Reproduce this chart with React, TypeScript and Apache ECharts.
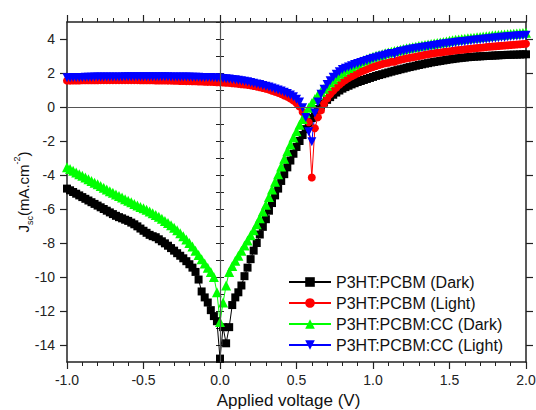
import React, { useEffect, useRef } from "react";
import * as echarts from "echarts";

const voltage = [
  -1.0, -0.98, -0.96, -0.94, -0.92, -0.9, -0.88, -0.86, -0.84, -0.82,
  -0.8, -0.78, -0.76, -0.74, -0.72, -0.7, -0.68, -0.66, -0.64, -0.62,
  -0.6, -0.58, -0.56, -0.54, -0.52, -0.5, -0.48, -0.46, -0.44, -0.42,
  -0.4, -0.38, -0.36, -0.34, -0.32, -0.3, -0.28, -0.26, -0.24, -0.22,
  -0.2, -0.18, -0.16, -0.14, -0.12, -0.1, -0.08, -0.06, -0.04, -0.02,
  0.0, 0.02, 0.04, 0.06, 0.08, 0.1, 0.12, 0.14, 0.16, 0.18,
  0.2, 0.22, 0.24, 0.26, 0.28, 0.3, 0.32, 0.34, 0.36, 0.38,
  0.4, 0.42, 0.44, 0.46, 0.48, 0.5, 0.52, 0.54, 0.56, 0.58,
  0.6, 0.62, 0.64, 0.66, 0.68, 0.7, 0.72, 0.74, 0.76, 0.78,
  0.8, 0.82, 0.84, 0.86, 0.88, 0.9, 0.92, 0.94, 0.96, 0.98,
  1.0, 1.02, 1.04, 1.06, 1.08, 1.1, 1.12, 1.14, 1.16, 1.18,
  1.2, 1.22, 1.24, 1.26, 1.28, 1.3, 1.32, 1.34, 1.36, 1.38,
  1.4, 1.42, 1.44, 1.46, 1.48, 1.5, 1.52, 1.54, 1.56, 1.58,
  1.6, 1.62, 1.64, 1.66, 1.68, 1.7, 1.72, 1.74, 1.76, 1.78,
  1.8, 1.82, 1.84, 1.86, 1.88, 1.9, 1.92, 1.94, 1.96, 1.98,
  2.0,
];

const pcbmDark = [
  -4.8, -4.9, -5.0, -5.1, -5.2, -5.3, -5.4, -5.5, -5.6, -5.7,
  -5.8, -5.9, -6.0, -6.1, -6.2, -6.3, -6.4, -6.48, -6.55, -6.63,
  -6.7, -6.8, -6.9, -7.02, -7.15, -7.28, -7.4, -7.52, -7.6, -7.66,
  -7.78, -7.9, -8.02, -8.16, -8.3, -8.45, -8.6, -8.75, -8.9, -9.07,
  -9.25, -9.45, -9.7, -10.15, -10.85, -11.2, -11.5, -11.95, -12.3, -12.6,
  -14.8, -12.95, -13.9, -12.95, -11.65, -11.2, -10.9, -10.5, -9.95, -9.45,
  -8.95, -8.45, -8.0, -7.5, -7.05, -6.6, -6.1, -5.65, -5.2, -4.8,
  -4.35, -3.95, -3.55, -3.15, -2.75, -2.35, -2.0, -1.65, -1.3, -0.95,
  -0.65, -0.35, -0.12, 0.08, 0.26, 0.42, 0.58, 0.72, 0.85, 0.97,
  1.08, 1.17, 1.25, 1.33, 1.4, 1.47, 1.53, 1.59, 1.65, 1.71,
  1.77, 1.83, 1.88, 1.93, 1.98, 2.03, 2.08, 2.13, 2.17, 2.22,
  2.26, 2.31, 2.35, 2.39, 2.43, 2.47, 2.51, 2.55, 2.58, 2.62,
  2.65, 2.68, 2.71, 2.74, 2.77, 2.8, 2.82, 2.85, 2.87, 2.89,
  2.91, 2.93, 2.94, 2.96, 2.97, 2.98, 2.99, 3.0, 3.01, 3.02,
  3.03, 3.04, 3.05, 3.06, 3.07, 3.07, 3.08, 3.08, 3.09, 3.1,
  3.1,
];

const pcbmLight = [
  1.55, 1.55, 1.56, 1.56, 1.56, 1.57, 1.57, 1.57, 1.57, 1.57,
  1.57, 1.58, 1.58, 1.58, 1.58, 1.58, 1.58, 1.58, 1.58, 1.58,
  1.58, 1.58, 1.58, 1.58, 1.57, 1.57, 1.57, 1.57, 1.57, 1.56,
  1.56, 1.56, 1.56, 1.55, 1.55, 1.54, 1.54, 1.53, 1.53, 1.52,
  1.52, 1.51, 1.51, 1.5, 1.5, 1.49, 1.48, 1.48, 1.47, 1.46,
  1.45, 1.44, 1.43, 1.42, 1.4, 1.38, 1.36, 1.34, 1.32, 1.3,
  1.27, 1.24, 1.2, 1.16, 1.12, 1.07, 1.02, 0.96, 0.9, 0.83,
  0.76, 0.68, 0.6, 0.5, 0.38, 0.22, 0.02, -0.3, -0.6, -0.9,
  -4.15, -1.25, -0.6, -0.2, 0.2, 0.5, 0.75, 0.95, 1.13, 1.3,
  1.45, 1.58, 1.7, 1.8, 1.9, 1.99, 2.07, 2.15, 2.22, 2.29,
  2.35, 2.41, 2.47, 2.52, 2.57, 2.6, 2.66, 2.66, 2.74, 2.78,
  2.82, 2.86, 2.89, 2.93, 2.96, 3.0, 3.03, 3.07, 3.1, 3.13,
  3.16, 3.19, 3.21, 3.24, 3.26, 3.28, 3.3, 3.33, 3.35, 3.37,
  3.39, 3.41, 3.43, 3.45, 3.47, 3.49, 3.5, 3.52, 3.54, 3.56,
  3.57, 3.59, 3.6, 3.62, 3.63, 3.65, 3.66, 3.68, 3.69, 3.71,
  3.72,
];

const ccDark = [
  -3.55, -3.65, -3.75, -3.85, -3.95, -4.05, -4.15, -4.25, -4.35, -4.45,
  -4.55, -4.65, -4.75, -4.85, -4.95, -5.05, -5.15, -5.24, -5.33, -5.42,
  -5.52, -5.61, -5.7, -5.79, -5.88, -5.96, -6.05, -6.15, -6.25, -6.35,
  -6.45, -6.57, -6.7, -6.82, -6.95, -7.1, -7.25, -7.42, -7.6, -7.8,
  -8.0, -8.2, -8.45, -8.7, -8.95, -9.2, -9.45, -9.7, -10.0, -10.9,
  -12.65, -11.5, -10.5, -9.7, -9.35, -9.05, -8.75, -8.45, -8.15, -7.85,
  -7.55, -7.25, -6.9, -6.55, -6.15, -5.75, -5.3, -4.85, -4.4, -3.95,
  -3.5, -3.05, -2.6, -2.2, -1.8, -1.42, -1.05, -0.7, -0.35, -0.05,
  0.22, 0.47, 0.7, 0.9, 1.08, 1.25, 1.45, 1.63, 1.8, 1.95,
  2.08, 2.2, 2.3, 2.4, 2.5, 2.59, 2.67, 2.75, 2.82, 2.89,
  2.95, 3.01, 3.06, 3.11, 3.16, 3.21, 3.25, 3.29, 3.33, 3.37,
  3.41, 3.45, 3.48, 3.52, 3.55, 3.59, 3.62, 3.65, 3.68, 3.71,
  3.74, 3.77, 3.8, 3.83, 3.86, 3.89, 3.92, 3.95, 3.97, 4.0,
  4.02, 4.04, 4.06, 4.08, 4.1, 4.12, 4.14, 4.16, 4.18, 4.2,
  4.22, 4.23, 4.25, 4.26, 4.28, 4.29, 4.31, 4.32, 4.34, 4.35,
  4.37,
];

const ccLight = [
  1.72, 1.72, 1.73, 1.73, 1.74, 1.74, 1.75, 1.75, 1.75, 1.76,
  1.76, 1.76, 1.76, 1.77, 1.77, 1.77, 1.77, 1.77, 1.77, 1.78,
  1.78, 1.78, 1.78, 1.78, 1.78, 1.78, 1.78, 1.78, 1.78, 1.78,
  1.78, 1.78, 1.78, 1.78, 1.77, 1.77, 1.77, 1.77, 1.76, 1.76,
  1.76, 1.75, 1.75, 1.75, 1.74, 1.74, 1.73, 1.73, 1.72, 1.71,
  1.7, 1.68, 1.66, 1.64, 1.62, 1.6, 1.57, 1.54, 1.51, 1.48,
  1.44, 1.4, 1.36, 1.32, 1.27, 1.22, 1.17, 1.12, 1.06, 1.0,
  0.94, 0.87, 0.8, 0.7, 0.6, 0.46, 0.3, -0.05, -0.62, -1.45,
  -2.05, -0.35, 0.3, 0.75, 1.05, 1.32, 1.55, 1.75, 1.92, 2.07,
  2.2, 2.28, 2.35, 2.43, 2.5, 2.56, 2.62, 2.68, 2.74, 2.8,
  2.85, 2.9, 2.95, 3.0, 3.05, 3.1, 3.14, 3.1, 3.2, 3.26,
  3.3, 3.34, 3.37, 3.41, 3.44, 3.47, 3.5, 3.53, 3.56, 3.59,
  3.62, 3.65, 3.67, 3.7, 3.72, 3.75, 3.77, 3.8, 3.82, 3.84,
  3.86, 3.88, 3.9, 3.92, 3.94, 3.96, 3.98, 4.0, 4.02, 4.04,
  4.06, 4.08, 4.1, 4.11, 4.13, 4.14, 4.16, 4.17, 4.19, 4.2,
  4.22,
];

const seriesNames = [
  "P3HT:PCBM (Dark)",
  "P3HT:PCBM (Light)",
  "P3HT:PCBM:CC (Dark)",
  "P3HT:PCBM:CC (Light)",
];
const yMajorTicks = [-14, -12, -10, -8, -6, -4, -2, 0, 2, 4];

const FONT = 'Arial, "Liberation Sans", sans-serif';
const AXIS_COLOR = "#222";

export default function App() {
  const ref = useRef<HTMLDivElement>(null);

  useEffect(() => {
    if (!ref.current) return;
    const chart = echarts.init(ref.current, undefined, { renderer: "svg" });

    const pairs = (ys: number[]) => voltage.map((v, i) => [v, ys[i]]);

    const mk = (
      name: string,
      ys: number[],
      color: string,
      symbol: string,
      size: number,
      rotate = 0
    ) => ({
      name,
      type: "line",
      data: pairs(ys),
      symbol,
      symbolSize: size,
      symbolRotate: rotate,
      showAllSymbol: true,
      itemStyle: { color, borderWidth: 0 },
      lineStyle: { color, width: 1 },
      emphasis: { disabled: true },
      xAxisIndex: 0,
      yAxisIndex: 0,
    });

    const xBase = {
      type: "value",
      min: -1,
      max: 2,
      interval: 0.5,
      axisLine: { show: true, onZero: false, lineStyle: { color: AXIS_COLOR, width: 1.5 } },
      axisTick: { show: true, inside: false, length: 7, lineStyle: { color: AXIS_COLOR, width: 1.2 } },
      minorTick: { show: true, splitNumber: 5, length: 4, lineStyle: { color: AXIS_COLOR, width: 1 } },
      splitLine: { show: false },
      minorSplitLine: { show: false },
    };

    const yBase = {
      type: "value",
      min: -15,
      max: 5,
      interval: 1,
      axisLine: { show: true, onZero: false, lineStyle: { color: AXIS_COLOR, width: 1.5 } },
      splitLine: { show: false },
    };

    chart.setOption({
      animation: false,
      grid: { left: 67, right: 10, top: 22, bottom: 48, containLabel: false, outerBoundsMode: "none" },
      legend: {
        orient: "vertical",
        left: 283,
        top: 269,
        itemWidth: 42,
        itemHeight: 12,
        itemGap: 5,
        data: seriesNames,
        textStyle: { fontSize: 16, fontFamily: FONT, color: "#111" },
        backgroundColor: "transparent",
      },
      xAxis: [
        {
          ...xBase,
          position: "bottom",
          name: "Applied voltage (V)",
          nameLocation: "middle",
          nameGap: 30,
          nameMoveOverlap: false,
          nameTextStyle: { fontSize: 17, fontFamily: FONT, color: "#111", padding: [0, 16, 0, 0] },
          axisLabel: {
            show: true,
            margin: 11,
            fontSize: 14,
            fontFamily: FONT,
            color: "#222",
            formatter: (v: number) => v.toFixed(1),
          },
        },
        {
          ...xBase,
          position: "top",
          axisLabel: { show: false },
        },
      ],
      yAxis: [
        {
          ...yBase,
          position: "left",
          axisTick: {
            show: true,
            inside: false,
            length: 7,
            customValues: yMajorTicks,
            lineStyle: { color: AXIS_COLOR, width: 1.2 },
          },
          axisLabel: {
            show: true,
            margin: 12,
            fontSize: 14,
            fontFamily: FONT,
            color: "#222",
            customValues: yMajorTicks,
          },
          name: "{j|J}{s|sc}{j|(mA.cm}{p|-2}{j|)}",
          nameLocation: "middle",
          nameGap: 33,
          nameMoveOverlap: false,
          nameRotate: 90,
          nameTextStyle: {
            fontFamily: FONT,
            color: "#111",
            rich: {
              j: { fontSize: 15, fontFamily: FONT, color: "#111", lineHeight: 22 },
              s: { fontSize: 9, fontFamily: FONT, color: "#111", verticalAlign: "bottom", lineHeight: 10 },
              p: { fontSize: 9, fontFamily: FONT, color: "#111", verticalAlign: "top", lineHeight: 10 },
            },
          },
        },
        {
          ...yBase,
          position: "left",
          axisLine: { show: false },
          axisTick: { show: true, inside: false, length: 4, lineStyle: { color: AXIS_COLOR, width: 1 } },
          axisLabel: { show: false },
        },
        {
          ...yBase,
          position: "right",
          axisTick: {
            show: true,
            inside: false,
            length: 7,
            customValues: yMajorTicks,
            lineStyle: { color: AXIS_COLOR, width: 1.2 },
          },
          axisLabel: { show: false, customValues: yMajorTicks },
        },
        {
          ...yBase,
          position: "right",
          axisLine: { show: false },
          axisTick: { show: true, inside: false, length: 4, lineStyle: { color: AXIS_COLOR, width: 1 } },
          axisLabel: { show: false },
        },
      ],
      series: [
        mk(seriesNames[0], pcbmDark, "#000000", "rect", 8),
        mk(seriesNames[1], pcbmLight, "#ff0000", "circle", 8),
        mk(seriesNames[2], ccDark, "#00ff00", "triangle", 10),
        mk(seriesNames[3], ccLight, "#0000ff", "triangle", 9, 180),
        {
          name: "zero-lines",
          type: "line",
          data: [],
          z: 10,
          silent: true,
          markLine: {
            silent: true,
            symbol: ["none", "none"],
            label: { show: false },
            lineStyle: { color: "#555", width: 1.2, type: "solid" },
            emphasis: { disabled: true },
            data: [{ xAxis: 0 }, { yAxis: 0 }],
          },
        },
      ],
    });

    return () => chart.dispose();
  }, []);

  return (
    <div
      ref={ref}
      style={{ position: "fixed", left: 0, top: 0, width: 536, height: 410, background: "#fff" }}
    />
  );
}
